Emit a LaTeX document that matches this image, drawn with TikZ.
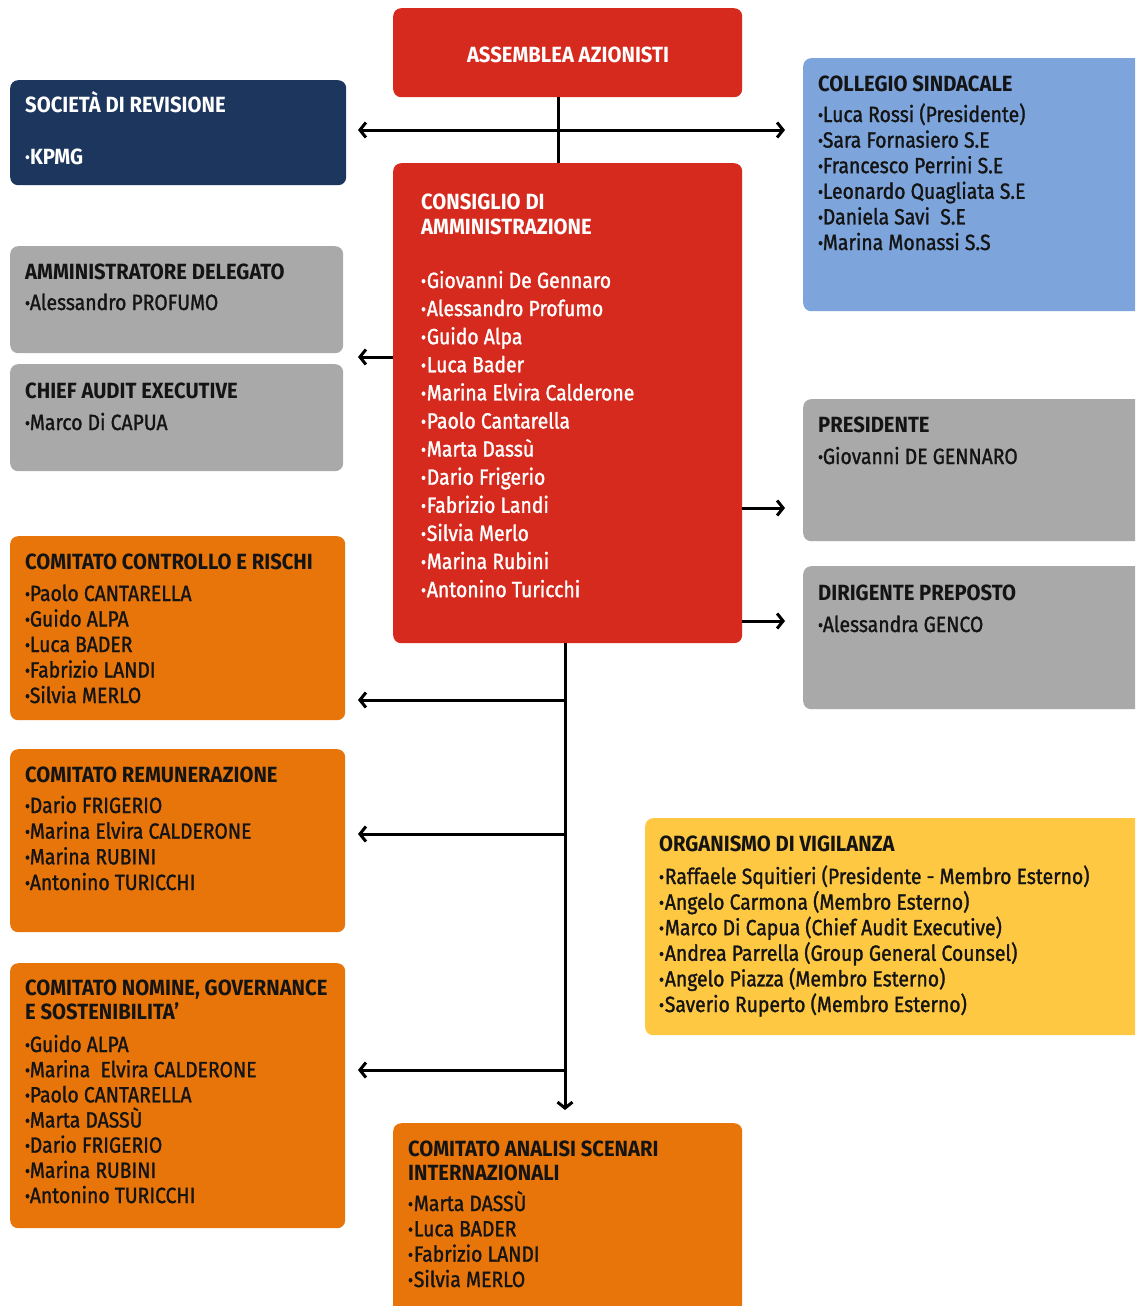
\documentclass[tikz,border=0pt]{standalone}
\usepackage{fontspec}
\setmainfont{Fira Sans}[FakeStretch=0.92]
\newfontfamily\namefont{Fira Sans}[FakeStretch=0.88, FakeBold=1.3]
\newfontfamily\bulfont{Fira Sans Bold}[FakeBold=1.5]
\usetikzlibrary{arrows.meta}
\definecolor{cred}{HTML}{D62A1E}
\definecolor{cnavy}{HTML}{1C365E}
\definecolor{cblue}{HTML}{7DA5DC}
\definecolor{cgray}{HTML}{A9A9A9}
\definecolor{corange}{HTML}{E8750A}
\definecolor{cyellow}{HTML}{FEC842}
\definecolor{ctext}{HTML}{141414}
\newcommand\bu{{\bfseries ·}}
\tikzset{
  box/.style={rounded corners=8pt, draw=none, anchor=north west, inner sep=0pt},
  txt/.style={anchor=base west, inner sep=0pt, font=\namefont\fontsize{22}{25}\selectfont},
  ttxt/.style={anchor=base west, inner sep=0pt, font=\fontsize{22}{25}\selectfont\bfseries},
  conn/.style={line width=3pt, draw=black},
  tip/.style={-{Straight Barb[length=6pt,width=15pt]}},
  tips/.style={{Straight Barb[length=6pt,width=15pt]}-{Straight Barb[length=6pt,width=15pt]}},
}
\newcommand\lns[6]{%
  \foreach \t [count=\i] in {#6} {
    \node[txt, text=#5] (#1\i) at (#2, {#3+(\i-1)*#4}) {\t};
  }}
\newcommand\ttl[6]{%
  \foreach \t [count=\i] in {#6} {
    \node[ttxt, text=#5] (#1\i) at (#2, {#3+(\i-1)*#4}) {\t};
  }}
\begin{document}
\begin{tikzpicture}[x=1pt,y=-1pt]
\useasboundingbox (0,0) rectangle (1135,1306);
\fill[white] (0,0) rectangle (1135,1306);
\clip (0,0) rectangle (1135,1306);
% boxes
\node[box, fill=cred, minimum width=349pt, minimum height=89pt] (asm) at (393,8) {};
\node[box, fill=cnavy, minimum width=336pt, minimum height=105pt] (soc) at (10,80) {};
\node[box, fill=cblue, minimum width=342pt, minimum height=253pt] (col) at (803,58) {};
\node[box, fill=cred, minimum width=349pt, minimum height=480pt] (cda) at (393,163) {};
\node[box, fill=cgray, minimum width=333pt, minimum height=107pt] (ad) at (10,246) {};
\node[box, fill=cgray, minimum width=333pt, minimum height=107pt] (cae) at (10,364) {};
\node[box, fill=cgray, minimum width=342pt, minimum height=142pt] (pres) at (803,399) {};
\node[box, fill=cgray, minimum width=342pt, minimum height=143pt] (dir) at (803,566) {};
\node[box, fill=corange, minimum width=335pt, minimum height=184pt] (ccr) at (10,536) {};
\node[box, fill=corange, minimum width=335pt, minimum height=183pt] (crem) at (10,749) {};
\node[box, fill=corange, minimum width=335pt, minimum height=265pt] (cn) at (10,963) {};
\node[box, fill=corange, minimum width=349pt, minimum height=200pt] (casi) at (393,1123) {};
\node[box, fill=cyellow, minimum width=500pt, minimum height=217pt] (odv) at (645,818) {};
% texts
\node[ttxt, anchor=base, text=white] (asmT) at (568,63) {ASSEMBLEA AZIONISTI};
\ttl{socT}{25}{112}{25}{white}{SOCIETÀ DI REVISIONE}
\node[ttxt, text=white] (socN) at (25,164) {·KPMG};
\ttl{colT}{818}{91}{25}{ctext}{COLLEGIO SINDACALE}
\lns{colN}{818}{122}{25.6}{ctext}{\bu Luca Rossi (Presidente),\bu Sara Fornasiero S.E,\bu Francesco Perrini S.E,\bu Leonardo Quagliata S.E,\bu Daniela Savi\ \ S.E,\bu Marina Monassi S.S}
\ttl{cdaT}{421}{209}{25}{white}{CONSIGLIO DI,AMMINISTRAZIONE}
\lns{cdaN}{421}{288}{28.1}{white}{\bu\kern1pt Giovanni De Gennaro,\bu\kern1pt Alessandro Profumo,\bu\kern1pt Guido Alpa,\bu\kern1pt Luca Bader,\bu\kern1pt Marina Elvira Calderone,\bu\kern1pt Paolo Cantarella,\bu\kern1pt Marta Dassù,\bu\kern1pt Dario Frigerio,\bu\kern1pt Fabrizio Landi,\bu\kern1pt Silvia Merlo,\bu\kern1pt Marina Rubini,\bu\kern1pt Antonino Turicchi}
\ttl{adT}{25}{279}{25}{ctext}{AMMINISTRATORE DELEGATO}
\lns{adN}{25}{310}{25}{ctext}{\bu Alessandro PROFUMO}
\ttl{caeT}{25}{398}{25}{ctext}{CHIEF AUDIT EXECUTIVE}
\lns{caeN}{25}{430}{25}{ctext}{\bu Marco Di CAPUA}
\ttl{presT}{818}{432}{25}{ctext}{PRESIDENTE}
\lns{presN}{818}{464}{25}{ctext}{\bu Giovanni DE GENNARO}
\ttl{dirT}{818}{600}{25}{ctext}{DIRIGENTE PREPOSTO}
\lns{dirN}{818}{632}{25}{ctext}{\bu Alessandra GENCO}
\ttl{ccrT}{25}{569}{25}{ctext}{COMITATO CONTROLLO E RISCHI}
\lns{ccrN}{25}{601}{25.5}{ctext}{\bu Paolo CANTARELLA,\bu Guido ALPA,\bu Luca BADER,\bu Fabrizio LANDI,\bu Silvia MERLO}
\ttl{cremT}{25}{782}{25}{ctext}{COMITATO REMUNERAZIONE}
\lns{cremN}{25}{813}{25.67}{ctext}{\bu Dario FRIGERIO,\bu Marina Elvira CALDERONE,\bu Marina RUBINI,\bu Antonino TURICCHI}
\ttl{cnT}{25}{995}{24}{ctext}{{COMITATO NOMINE, GOVERNANCE},E SOSTENIBILITA’}
\lns{cnN}{25}{1052}{25.17}{ctext}{\bu Guido ALPA,\bu Marina\ \ Elvira CALDERONE,\bu Paolo CANTARELLA,\bu Marta DASSÙ,\bu Dario FRIGERIO,\bu Marina RUBINI,\bu Antonino TURICCHI}
\ttl{casiT}{408}{1156}{24}{ctext}{COMITATO ANALISI SCENARI,INTERNAZIONALI}
\lns{casiN}{408}{1211}{25.33}{ctext}{\bu\kern1pt Marta DASSÙ,\bu\kern1pt Luca BADER,\bu\kern1pt Fabrizio LANDI,\bu\kern1pt Silvia MERLO}
\ttl{odvT}{659}{851}{25}{ctext}{ORGANISMO DI VIGILANZA}
\lns{odvN}{659}{884}{25.6}{ctext}{\bu\kern1pt Raffaele Squitieri (Presidente - Membro Esterno),\bu\kern1pt Angelo Carmona (Membro Esterno),\bu\kern1pt Marco Di Capua (Chief Audit Executive),\bu\kern1pt Andrea Parrella (Group General Counsel),\bu\kern1pt Angelo Piazza (Membro Esterno),\bu\kern1pt Saverio Ruperto (Membro Esterno)}
% connector coordinates
\coordinate (vtop) at (558,0);
\coordinate (hL) at (358,130);
\coordinate (hR) at (785,130);
\coordinate (adL) at (358,357);
\coordinate (prR) at (785,508);
\coordinate (diR) at (785,621);
\coordinate (vb) at (565,0);
\coordinate (vend) at (565,1110);
\coordinate (b1) at (565,700);
\coordinate (b1L) at (358,700);
\coordinate (b2) at (565,834);
\coordinate (b2L) at (358,834);
\coordinate (b3) at (565,1070);
\coordinate (b3L) at (358,1070);
% connectors
\draw[conn] (asm.south -| vtop) -- (cda.north -| vtop);
\draw[conn, tips] (hL) -- (hR);
\draw[conn, tip] (cda.west |- adL) -- (adL);
\draw[conn, tip] (cda.east |- prR) -- (prR);
\draw[conn, tip] (cda.east |- diR) -- (diR);
\draw[conn, tip] (cda.south -| vb) -- (vend);
\draw[conn, tip] (b1) -- (b1L);
\draw[conn, tip] (b2) -- (b2L);
\draw[conn, tip] (b3) -- (b3L);
\end{tikzpicture}
\end{document}
